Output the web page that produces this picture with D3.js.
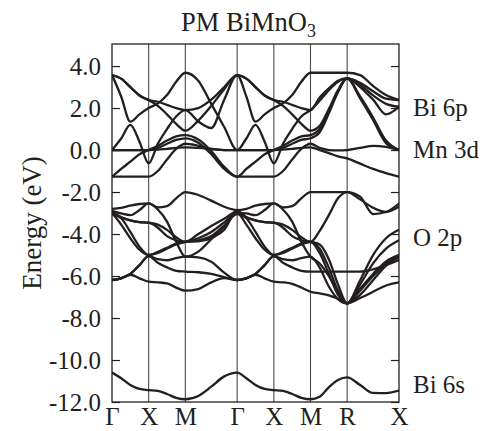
<!DOCTYPE html>
<html><head><meta charset="utf-8">
<script src="https://cdn.jsdelivr.net/npm/d3@7"></script>
<style>
body{margin:0;background:#fff}
svg{display:block}
text{font-family:"Liberation Serif","Times New Roman",serif;fill:#231f20}
</style>
</head><body>
<svg id="chart" width="486" height="431"></svg>
<script>
// ---- data ----
const kLabels = ["Γ","X","M","Γ","X","M","R","X"];
const segLengths = [0.5,0.5,0.7071,0.5,0.5,0.5,0.7071];
const samplesPerSeg = 4;
const yTicks = [4,2,0,-2,-4,-6,-8,-10,-12];
const bandLabels = ["Bi 6p","Mn 3d","O 2p","Bi 6s"];
const bandLabelEnergies = [1.6,-0.4,-4.55,-11.55];

// conduction bands (Bi 6p / Mn 3d), energies in eV at 29 k samples
const bandA = [3.57,3.4,3.0,2.6,2.38, 2.3,2.15,2.0,1.9, 2.0,2.4,3.0,3.57, 3.4,3.0,2.6,2.38, 2.3,2.15,2.0,1.9, 2.5,2.94,3.3,3.41, 3.2,2.8,2.45,2.38];
const bandB = [3.57,2.55,1.35,1.7,2.0, 2.22,2.62,3.25,3.68, 3.3,2.2,1.1,0.0, 0.55,1.2,0.4,-0.63, 0.3,1.0,1.6,1.9, 2.35,2.85,3.25,3.41, 3.0,2.4,1.7,2.06];
const bandC = [3.57,3.4,3.0,2.6,2.38, 2.1,1.7,1.25,0.92, 1.4,2.1,2.9,3.57, 3.4,3.0,2.6,2.38, 2.1,1.7,1.25,0.92, 1.15,1.95,2.85,3.41, 2.46,1.43,0.33,0.0];
const bandD = [0.0,0.55,1.2,0.4,-0.63, 0.3,1.0,1.6,1.9, 1.36,1.05,2.4,3.57, 2.55,1.35,1.7,2.0, 2.22,2.62,3.25,3.68, 3.68,3.68,3.68,3.68, 3.57,3.05,2.62,2.38];
const bandE = [0.0,0.0,0.0,0.0,0.0, 0.1,0.3,0.48,0.56, 0.35,-0.2,-0.9,-1.27, -0.9,-0.55,-0.2,0.0, 0.2,0.45,0.65,0.71, 1.0,1.85,2.8,3.41, 2.55,1.55,0.45,0.0];
const bandF = [-1.27,-0.9,-0.55,-0.2,0.0, 0.2,0.45,0.65,0.71, 0.5,-0.05,-0.8,-1.27, -1.27,-1.27,-1.27,-1.27, -1.0,-0.45,0.05,0.3, 0.1,0.0,-0.02,0.0, 0.1,0.2,0.15,0.0];
const bandG = [-1.27,-1.27,-1.27,-1.27,-1.27, -1.0,-0.45,0.05,0.3, 0.2,0.05,0.0,0.0, 0.0,0.0,0.0,0.0, 0.1,0.3,0.48,0.56, 0.85,1.75,2.75,3.41, 3.1,2.6,2.2,2.06];
const bandH = [0.0,0.0,0.0,0.0,0.0, 0.02,0.06,0.1,0.13, 0.1,0.05,0.0,0.0, 0.0,0.0,0.0,0.0, 0.02,0.06,0.1,0.13, 0.0,-0.15,-0.3,-0.4, -0.65,-0.9,-1.1,-1.27];

// valence bands (O 2p)
const bandV1 = [-2.8,-2.75,-2.65,-2.57,-2.54, -2.73,-2.67,-2.3,-2.0, -2.14,-2.41,-2.7,-2.86, -2.8,-2.65,-2.57,-2.54, -2.73,-2.67,-2.3,-2.0, -2.0,-2.0,-2.0,-2.0, -2.22,-3.05,-2.95,-2.55];
const bandV2 = [-2.9,-3.02,-3.1,-2.86,-2.54, -2.83,-3.41,-4.37,-5.08, -4.84,-4.25,-3.65,-3.0, -3.02,-3.1,-2.86,-2.54, -2.83,-3.41,-4.37,-5.08, -5.4,-6.0,-6.75,-7.3, -6.2,-5.0,-4.2,-3.8];
const bandV3 = [-2.95,-3.2,-3.35,-3.43,-3.46, -3.55,-3.8,-4.15,-4.37, -4.0,-3.62,-3.27,-2.94, -3.2,-3.35,-3.43,-3.46, -3.55,-3.8,-4.15,-4.37, -3.85,-3.1,-2.3,-2.0, -2.35,-2.75,-2.95,-2.7];
const bandV4 = [-3.0,-3.55,-4.2,-4.75,-5.0, -4.85,-4.65,-4.45,-4.37, -4.2,-3.9,-3.45,-3.0, -3.55,-4.2,-4.75,-5.0, -4.85,-4.65,-4.45,-4.37, -4.7,-5.6,-6.7,-7.3, -6.4,-5.4,-4.7,-4.3];
const bandV5 = [-3.05,-3.25,-3.9,-4.6,-5.0, -4.9,-4.7,-4.5,-4.37, -4.3,-4.1,-3.6,-3.05, -3.25,-3.9,-4.6,-5.0, -4.9,-4.7,-4.5,-4.37, -4.9,-5.9,-6.9,-7.3, -6.6,-5.9,-5.3,-5.0];
const bandV6 = [-2.95,-3.2,-3.35,-3.43,-3.46, -3.7,-4.1,-4.3,-4.37, -4.35,-4.2,-3.8,-2.9, -3.2,-3.35,-3.43,-3.46, -3.7,-4.1,-4.3,-4.37, -4.5,-5.2,-6.4,-7.3, -6.7,-6.0,-5.4,-5.0];
const bandV7 = [-6.19,-6.11,-5.9,-5.48,-5.05, -5.2,-5.25,-5.15,-5.08, -5.11,-5.32,-5.84,-6.19, -6.11,-5.9,-5.48,-5.05, -5.2,-5.25,-5.15,-5.08, -5.6,-6.5,-7.1,-7.3, -6.9,-6.2,-5.5,-5.1];
const bandV8 = [-6.19,-6.11,-5.9,-5.48,-5.05, -5.37,-5.59,-5.75,-5.79, -5.82,-5.9,-6.05,-6.19, -6.11,-5.9,-5.48,-5.05, -5.37,-5.59,-5.75,-5.79, -5.79,-5.79,-5.79,-5.79, -5.79,-5.68,-5.48,-5.24];
const bandV9 = [-6.19,-6.1,-5.94,-6.11,-6.27, -6.3,-6.35,-6.55,-6.7, -6.62,-6.3,-6.1,-6.19, -6.1,-5.94,-6.11,-6.27, -6.3,-6.37,-6.55,-6.75, -6.83,-6.92,-7.08,-7.3, -7.05,-6.75,-6.45,-6.3];

// Bi 6s band
const bandS = [-10.6,-10.87,-11.19,-11.38,-11.43, -11.47,-11.62,-11.8,-11.87, -11.71,-11.27,-10.78,-10.6, -10.87,-11.19,-11.38,-11.43, -11.47,-11.62,-11.8,-11.87, -11.75,-11.3,-10.95,-10.83, -11.19,-11.57,-11.58,-11.46];

const bands = [bandA,bandB,bandC,bandD,bandE,bandF,bandG,bandH,
               bandV1,bandV2,bandV3,bandV4,bandV5,bandV6,bandV7,bandV8,bandV9,bandS];

// ---- layout ----
const L = 112, R = 399, T = 44, B = 402;
const ink = "#231f20";
const svg = d3.select("#chart");

const cum = [0];
segLengths.forEach(l => cum.push(cum[cum.length-1] + l));
const nSeg = segLengths.length;
const kDist = d3.range(nSeg*samplesPerSeg + 1).map(i => {
  const s = Math.min(Math.floor(i/samplesPerSeg), nSeg-1);
  const f = (i - s*samplesPerSeg)/samplesPerSeg;
  return cum[s] + f*segLengths[s];
});

const x = d3.scaleLinear().domain([0, cum[nSeg]]).range([L, R]);
const y = d3.scaleLinear().domain([-12, 5.05]).range([B, T]);

svg.append("defs").append("clipPath").attr("id","plot")
  .append("rect").attr("x",L).attr("y",T).attr("width",R-L).attr("height",B-T);

// vertical high-symmetry lines
svg.append("g").selectAll("line").data(cum.slice(1, nSeg)).join("line")
  .attr("x1", d => x(d)).attr("x2", d => x(d))
  .attr("y1", T).attr("y2", B)
  .attr("stroke", "#4a4a4a").attr("stroke-width", 1.1);

// bands
const line = d3.line().x((d,i) => x(kDist[i])).y(d => y(d)).curve(d3.curveMonotoneX);
svg.append("g").attr("clip-path","url(#plot)")
  .selectAll("path").data(bands).join("path")
  .attr("d", line).attr("fill","none")
  .attr("stroke", ink).attr("stroke-width", 2.3)
  .attr("stroke-linejoin","round").attr("stroke-linecap","round");

// frame
svg.append("rect").attr("x",L).attr("y",T).attr("width",R-L).attr("height",B-T)
  .attr("fill","none").attr("stroke",ink).attr("stroke-width",1.3);

// y axis left
const yAxis = svg.append("g").attr("transform",`translate(${L},0)`)
  .call(d3.axisLeft(y).tickValues(yTicks).tickSize(-8).tickPadding(11).tickFormat(d => d.toFixed(1)));
yAxis.select(".domain").remove();
yAxis.selectAll("line").attr("stroke",ink).attr("stroke-width",1.2);
yAxis.selectAll("text").attr("font-size",25).attr("font-family","Liberation Serif").attr("fill",ink);

// right ticks
const yAxisR = svg.append("g").attr("transform",`translate(${R},0)`)
  .call(d3.axisRight(y).tickValues(yTicks).tickSize(-8).tickFormat(""));
yAxisR.select(".domain").remove();
yAxisR.selectAll("line").attr("stroke",ink).attr("stroke-width",1.2);

// x axis labels
const xAxis = svg.append("g").attr("transform",`translate(0,${B})`)
  .call(d3.axisBottom(x).tickValues(cum).tickSize(0).tickPadding(5).tickFormat((d,i) => kLabels[i]));
xAxis.select(".domain").remove();
xAxis.selectAll("text").attr("font-size",25).attr("font-family","Liberation Serif").attr("fill",ink);

// title
const title = svg.append("text").attr("x",248.5).attr("y",31).attr("text-anchor","middle").attr("font-size",26.5);
title.append("tspan").text("PM BiMnO");
title.append("tspan").attr("font-size",18).attr("dy",6).text("3");

// y label
svg.append("text").attr("transform",`translate(41,223) rotate(-90)`)
  .attr("text-anchor","middle").attr("font-size",27).text("Energy (eV)");

// band character labels
svg.append("g").selectAll("text").data(bandLabels).join("text")
  .attr("x", 413).attr("y", (d,i) => y(bandLabelEnergies[i]))
  .attr("font-size", 25).text(d => d);
</script>
</body></html>
